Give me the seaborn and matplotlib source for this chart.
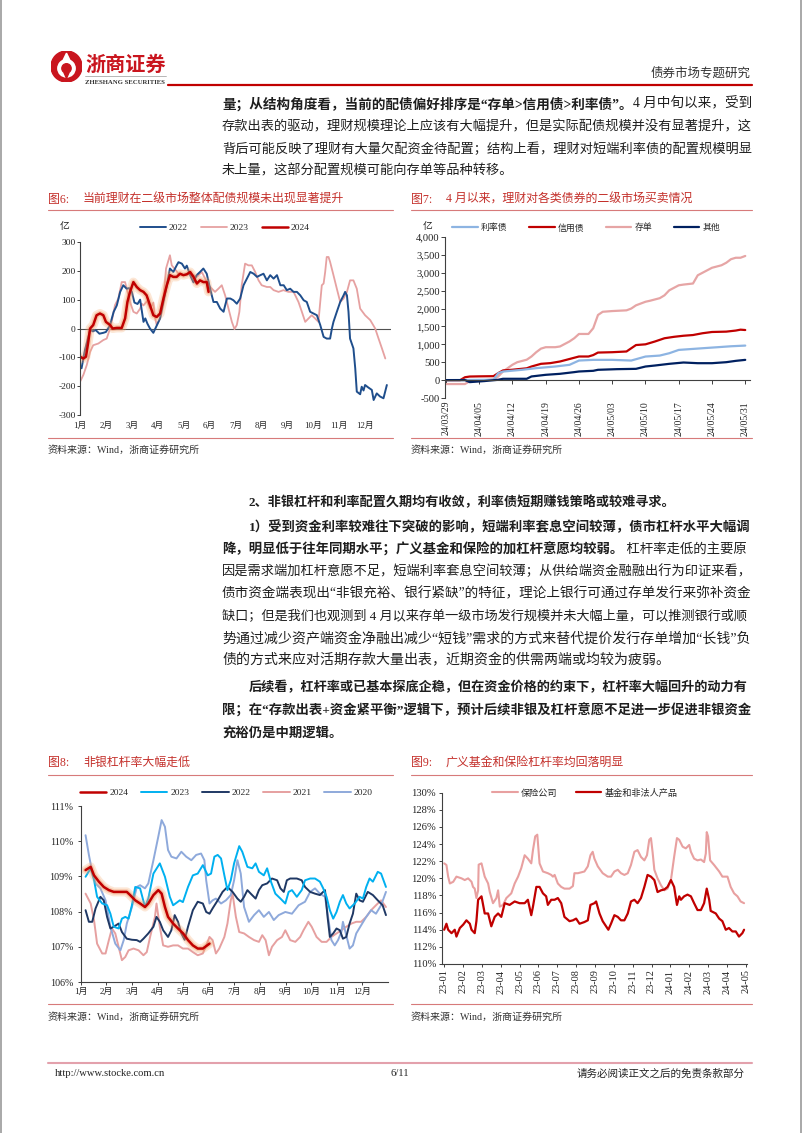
import matplotlib
matplotlib.use('Agg')
import matplotlib.pyplot as plt
import seaborn as sns
import pandas as pd
from matplotlib.lines import Line2D
from matplotlib.patches import Circle, Polygon
from matplotlib.ticker import FuncFormatter
from matplotlib.transforms import Bbox, TransformedBbox

sns.set_style('ticks')
FAM = ['Liberation Serif', 'Noto Sans CJK SC']
plt.rcParams['font.family'] = FAM
plt.rcParams['axes.unicode_minus'] = False

# ---------------- data ----------------
month_labels = ['1月', '2月', '3月', '4月', '5月', '6月', '7月', '8月', '9月', '10月', '11月', '12月']

# Fig 6 (x = month of year, y = 亿)
c6_2022 = [(0.06,-138),(0.19,-75),(0.39,-5),(0.5,-10),(0.6,-5),(0.75,-18),(0.9,-15),(1.0,-12),(1.15,10),(1.3,58),
           (1.42,80),(1.55,127),(1.67,150),(1.8,138),(1.9,140),(2.0,127),(2.1,90),(2.22,85),(2.32,100),(2.45,23),
           (2.52,35),(2.6,17),(2.7,0),(2.83,-15),(2.96,10),(3.09,35),(3.22,92),(3.35,150),(3.47,208),(3.6,196),
           (3.73,219),(3.8,230),(3.93,225),(4.05,208),(4.12,218),(4.25,185),(4.38,160),(4.5,185),(4.63,196),(4.76,208),
           (4.89,190),(5.02,138),(5.15,92),(5.28,92),(5.41,69),(5.54,58),(5.6,80),(5.67,104),(5.8,104),(5.92,98),
           (6.05,86),(6.18,104),(6.31,150),(6.44,173),(6.57,196),(6.7,190),(6.83,179),(6.96,185),(7.08,190),(7.21,167),
           (7.34,185),(7.47,173),(7.6,185),(7.73,150),(7.86,150),(7.98,133),(8.11,138),(8.24,127),(8.37,127),(8.5,115),
           (8.63,98),(8.75,92),(8.88,58),(9.01,52),(9.14,46),(9.27,12),(9.4,-29),(9.52,-35),(9.65,-35),(9.72,0),
           (9.78,23),(9.91,58),(10.04,92),(10.17,115),(10.23,127),(10.3,115),(10.36,58),(10.42,-35),(10.55,-69),(10.62,-138),
           (10.68,-219),(10.81,-228),(10.87,-202),(10.94,-215),(11.0,-196),(11.13,-205),(11.26,-213),(11.33,-248),(11.45,-225),(11.58,-236),
           (11.71,-242),(11.84,-196)]
c6_2023 = [(0.0,-185),(0.13,-161),(0.26,-127),(0.39,-81),(0.51,-58),(0.71,-52),(0.9,-40),(1.03,-35),(1.16,0),(1.22,23),
           (1.35,81),(1.48,104),(1.61,161),(1.74,161),(1.83,127),(1.93,92),(2.06,58),(2.19,52),(2.32,69),(2.38,86),
           (2.45,80),(2.58,95),(2.71,70),(2.83,90),(2.9,35),(2.96,12),(3.09,35),(3.22,104),(3.32,208),(3.47,254),
           (3.54,219),(3.67,205),(3.8,190),(4.0,185),(4.25,190),(4.51,179),(4.7,196),(4.83,173),(4.96,150),(5.09,138),
           (5.21,127),(5.34,138),(5.47,150),(5.6,115),(5.73,69),(5.86,23),(5.96,-2),(6.05,12),(6.15,58),(6.24,150),
           (6.37,225),(6.5,219),(6.63,219),(6.76,196),(6.89,167),(7.01,150),(7.21,144),(7.34,144),(7.47,133),(7.66,127),
           (7.85,133),(8.04,127),(8.24,127),(8.43,92),(8.56,58),(8.69,23),(8.82,35),(8.94,46),(9.07,35),(9.2,23),
           (9.27,92),(9.33,150),(9.4,156),(9.46,196),(9.52,248),(9.59,248),(9.65,231),(9.78,185),(9.91,138),(10.04,92),
           (10.17,104),(10.3,127),(10.42,167),(10.55,167),(10.68,138),(10.81,69),(11.0,46),(11.2,29),(11.39,0),(11.52,-35),
           (11.65,-69),(11.78,-104)]
c6_2024 = [(0.0,-98),(0.13,-104),(0.23,-98),(0.32,-46),(0.39,0),(0.51,12),(0.64,46),(0.77,52),(0.9,46),(1.0,23),
           (1.16,12),(1.26,0),(1.42,2),(1.61,2),(1.74,35),(1.83,92),(1.93,127),(2.06,161),(2.19,144),(2.32,133),
           (2.45,127),(2.57,115),(2.7,81),(2.83,46),(2.96,40),(3.09,52),(3.22,104),(3.35,150),(3.47,185),(3.6,179),
           (3.73,179),(3.86,190),(3.99,185),(4.12,188),(4.25,196),(4.38,179),(4.51,156),(4.63,167),(4.76,161),(4.89,161),
           (4.96,127)]

# Fig 7 (date 2024, 亿)
c7_start = '2024-03-29'
c7_ticks = ['24/03/29', '24/04/05', '24/04/12', '24/04/19', '24/04/26', '24/05/03', '24/05/10', '24/05/17', '24/05/24', '24/05/31']
c7_rate = [('03-29',0),('04-08',10),('04-09',195),('04-10',240),('04-14',288),('04-17',334),('04-21',380),('04-24',427),
           ('04-26',547),('04-29',566),('05-03',566),('05-07',547),('05-10',659),('05-13',686),('05-15',751),('05-17',844),
           ('05-20',872),('05-23',900),('05-25',918),('05-28',946),('05-31',965)]
c7_credit = [('03-29',0),('04-01',0),('04-02',80),('04-03',100),('04-05',105),('04-08',110),('04-09',195),('04-10',270),
             ('04-12',290),('04-15',330),('04-16',380),('04-18',455),('04-20',475),('04-22',520),('04-24',590),('04-26',660),
             ('04-28',660),('04-29',700),('04-30',770),('05-03',780),('05-06',800),('05-07',890),('05-08',980),('05-10',1000),
             ('05-12',1080),('05-14',1170),('05-16',1210),('05-18',1240),('05-20',1260),('05-22',1310),('05-24',1345),
             ('05-27',1355),('05-29',1385),('05-30',1410),('05-31',1400)]
c7_cd = [('03-29',-110),('04-02',-110),('04-03',-30),('04-05',-20),('04-08',20),('04-09',100),('04-10',240),('04-12',430),
         ('04-13',500),('04-15',570),('04-16',660),('04-17',780),('04-18',880),('04-19',920),('04-21',920),('04-22',940),
         ('04-24',1080),('04-25',1170),('04-26',1290),('04-28',1290),('04-29',1450),('04-30',1820),('05-01',1910),('05-03',1930),
         ('05-06',1950),('05-07',2000),('05-08',2090),('05-10',2190),('05-11',2220),('05-13',2290),('05-14',2370),('05-15',2510),
         ('05-17',2650),('05-18',2670),('05-20',2700),('05-21',2930),('05-22',3000),('05-24',3140),('05-26',3210),('05-27',3280),
         ('05-28',3380),('05-29',3420),('05-30',3420),('05-31',3470)]
c7_other = [('03-29',0),('04-02',0),('04-03',-56),('04-06',-28),('04-09',9),('04-10',37),('04-15',37),('04-16',102),
            ('04-19',148),('04-22',176),('04-25',223),('04-26',241),('04-29',260),('04-30',288),('05-04',306),('05-08',315),
            ('05-10',380),('05-12',408),('05-15',455),('05-18',492),('05-21',473),('05-24',473),('05-27',501),('05-29',538),
            ('05-31',566)]

# Fig 8 (x = month of year, %)
c8_2024 = [(0.19,109.18),(0.39,109.27),(0.52,109.03),(0.71,108.85),(0.9,108.70),(1.1,108.61),(1.29,108.56),(1.55,108.56),
           (1.8,108.56),(1.93,108.47),(2.13,108.32),(2.32,108.23),(2.51,108.13),(2.64,108.23),(2.84,108.47),(3.03,108.61),
           (3.16,108.51),(3.29,108.13),(3.41,107.85),(3.61,107.66),(3.8,107.52),(4.0,107.38),(4.19,107.19),(4.38,107.04),
           (4.57,106.95),(4.77,106.95),(4.9,107.02),(5.03,107.09)]
c8_2023 = [(0.19,108.99),(0.39,109.23),(0.52,108.9),(0.64,108.42),(0.84,108.23),(1.03,108.18),(1.16,107.94),(1.29,107.57),
           (1.48,107.52),(1.61,107.80),(1.74,107.85),(1.87,107.80),(2.0,108.18),(2.13,108.70),(2.32,108.66),(2.51,108.13),
           (2.64,108.37),(2.84,109.08),(3.09,109.37),(3.29,108.99),(3.48,108.42),(3.61,108.18),(3.87,108.32),(3.99,108.27),
           (4.19,108.70),(4.38,109.03),(4.57,109.08),(4.77,109.32),(4.96,109.03),(5.09,109.08),(5.22,109.56),(5.35,109.61),
           (5.48,109.51),(5.61,109.03),(5.73,108.61),(5.86,108.89),(5.99,109.37),(6.19,109.86),(6.31,109.70),(6.51,109.27),
           (6.7,109.23),(6.83,109.37),(6.96,109.13),(7.15,109.03),(7.28,109.23),(7.41,108.89),(7.6,108.51),(7.8,108.37),
           (7.99,108.23),(8.12,108.56),(8.25,108.61),(8.44,108.42),(8.63,108.61),(8.76,108.89),(8.96,108.94),(9.15,108.94),
           (9.34,108.85),(9.47,108.66),(9.6,108.42),(9.73,108.04),(9.86,107.80),(9.99,107.99),(10.12,108.28),(10.24,108.47),
           (10.37,108.23),(10.5,108.09),(10.7,108.23),(10.89,108.42),(11.02,108.37),(11.15,108.70),(11.28,108.94),(11.41,108.85),
           (11.6,109.13),(11.73,109.08),(11.92,108.70)]
c8_2022 = [(0.19,108.04),(0.32,107.71),(0.45,107.71),(0.58,108.09),(0.77,108.42),(0.9,108.32),(1.03,107.85),(1.16,107.52),
           (1.29,107.57),(1.48,107.66),(1.61,107.42),(1.8,107.23),(2.0,107.20),(2.19,107.19),(2.32,107.14),(2.45,107.23),
           (2.64,107.38),(2.84,107.57),(2.96,107.85),(3.09,107.71),(3.22,107.47),(3.41,107.28),(3.54,107.47),(3.67,107.90),
           (3.8,107.71),(3.93,107.38),(4.06,107.20),(4.19,107.57),(4.38,108.04),(4.57,108.28),(4.77,108.23),(4.9,107.99),
           (5.03,107.94),(5.15,108.09),(5.35,108.32),(5.54,108.56),(5.73,108.70),(5.93,108.56),(6.12,108.37),(6.25,108.28),
           (6.38,108.42),(6.51,108.61),(6.64,108.51),(6.83,108.37),(6.96,108.61),(7.09,108.75),(7.28,108.80),(7.47,108.94),
           (7.67,108.89),(7.8,108.66),(7.93,108.56),(8.05,108.89),(8.18,108.94),(8.44,108.94),(8.63,108.89),(8.76,108.70),
           (8.96,108.56),(9.15,108.51),(9.34,108.47),(9.54,108.61),(9.64,107.85),(9.73,107.28),(9.86,107.38),(9.99,107.52),
           (10.12,107.47),(10.24,107.23),(10.37,107.28),(10.5,107.66),(10.63,107.94),(10.76,108.51),(10.89,108.32),(11.02,108.28),
           (11.21,108.56),(11.41,108.47),(11.6,108.32),(11.79,108.18),(11.92,107.90)]
c8_2021 = [(0.19,108.51),(0.39,108.23),(0.52,107.76),(0.64,107.09),(0.84,106.81),(0.97,106.81),(1.1,107.19),(1.22,107.52),
           (1.35,107.38),(1.48,107.00),(1.61,106.62),(1.74,106.71),(1.87,106.90),(2.06,106.95),(2.26,106.90),(2.45,106.76),
           (2.58,106.85),(2.71,107.28),(2.9,107.85),(2.96,108.23),(3.09,107.57),(3.22,107.04),(3.41,107.00),(3.61,107.04),
           (3.8,107.04),(3.99,106.95),(4.19,106.95),(4.38,106.85),(4.57,106.76),(4.77,106.81),(4.9,107.04),(5.03,107.28),
           (5.15,107.19),(5.28,106.81),(5.41,106.95),(5.61,107.28),(5.73,107.66),(5.86,108.32),(5.93,108.51),(6.06,107.85),
           (6.19,107.42),(6.38,107.38),(6.57,107.28),(6.77,107.19),(6.96,107.14),(7.09,107.33),(7.22,107.19),(7.35,106.76),
           (7.47,107.00),(7.67,107.19),(7.86,107.28),(7.99,107.47),(8.18,107.19),(8.38,107.14),(8.57,107.28),(8.7,107.47),
           (8.89,107.71),(9.02,107.57),(9.21,107.28),(9.41,107.14),(9.6,107.14),(9.79,107.28),(9.99,107.38),(10.18,107.47),
           (10.37,107.57),(10.57,107.66),(10.76,107.71),(10.95,107.71),(11.15,107.85),(11.34,108.04),(11.53,108.18),(11.73,108.32),
           (11.92,108.13)]
c8_2020 = [(0.19,110.17),(0.32,109.61),(0.45,109.13),(0.58,108.80),(0.77,108.66),(0.97,108.32),(1.16,107.57),(1.35,107.09),
           (1.55,106.90),(1.68,107.19),(1.8,107.66),(2.0,108.13),(2.19,108.70),(2.32,108.75),(2.51,108.66),(2.64,108.80),
           (2.84,109.46),(3.03,110.13),(3.16,110.60),(3.29,110.41),(3.41,109.75),(3.54,109.56),(3.74,109.51),(3.93,109.70),
           (4.12,109.56),(4.32,109.46),(4.51,109.61),(4.7,109.65),(4.83,109.46),(4.9,108.89),(5.03,108.23),(5.15,108.32),
           (5.28,108.37),(5.48,108.23),(5.67,108.32),(5.86,108.47),(5.99,108.89),(6.12,109.46),(6.25,109.08),(6.38,108.13),
           (6.57,107.71),(6.77,107.90),(6.96,108.04),(7.15,107.85),(7.35,107.99),(7.54,107.76),(7.73,107.90),(7.99,107.99),
           (8.25,107.94),(8.51,108.18),(8.76,108.28),(8.96,108.56),(9.15,108.66),(9.34,108.51),(9.54,108.42),(9.66,107.85),
           (9.79,107.19),(9.92,107.04),(10.05,107.19),(10.18,107.42),(10.24,107.71),(10.37,107.33),(10.5,106.95),(10.63,107.04),
           (10.76,107.38),(10.95,107.61),(11.15,107.85),(11.34,108.04),(11.53,107.94),(11.73,108.18),(11.92,108.56)]

# Fig 9 (x = months since 2023-01, %)
c9_ticks = ['23-01', '23-02', '23-03', '23-04', '23-05', '23-06', '23-07', '23-08', '23-09', '23-10', '23-11', '23-12',
            '24-01', '24-02', '24-03', '24-04', '24-05']
c9_ins = [(0.0,121.75),(0.12,121.56),(0.21,120.2),(0.3,119.4),(0.48,119.6),(0.65,120.2),(0.92,120.0),(1.09,119.8),(1.27,120.0),
          (1.45,119.6),(1.53,119.0),(1.62,118.8),(1.71,117.7),(1.8,118.6),(1.83,121.6),(1.98,121.75),(2.15,120.2),(2.33,119.4),
          (2.42,118.4),(2.59,117.1),(2.77,117.7),(2.86,118.6),(2.95,116.7),(3.12,116.9),(3.3,117.7),(3.56,118.25),(3.74,119.4),
          (3.92,120.2),(4.09,121.2),(4.27,122.7),(4.44,122.3),(4.62,121.75),(4.71,123.3),(4.83,124.9),(4.94,125.1),(5.06,121.75),
          (5.24,120.8),(5.5,120.6),(5.68,120.4),(5.77,120.2),(5.86,120.4),(6.03,119.4),(6.21,119.0),(6.38,118.8),(6.65,118.8),
          (6.83,119.1),(6.91,120.6),(7.09,120.6),(7.27,120.7),(7.44,120.8),(7.62,121.4),(7.76,122.7),(7.88,123.1),(7.97,122.3),
          (8.15,121.4),(8.41,120.6),(8.68,120.2),(8.85,120.2),(9.03,120.8),(9.21,121.0),(9.38,120.6),(9.56,120.4),(9.74,120.6),
          (9.91,121.56),(10.09,123.1),(10.26,123.3),(10.44,122.5),(10.62,122.1),(10.76,122.7),(10.88,124.5),(10.97,124.7),
          (11.06,123.0),(11.15,121.0),(11.32,120.0),(11.5,119.2),(11.68,118.6),(11.85,118.8),(12.03,119.8),(12.2,122.5),
          (12.35,124.7),(12.47,124.5),(12.65,123.7),(12.82,123.5),(13.0,123.9),(13.09,123.1),(13.26,122.3),(13.44,122.1),
          (13.62,122.2),(13.79,121.9),(13.88,122.9),(13.93,125.4),(14.0,124.9),(14.11,122.1),(14.32,121.56),(14.59,120.8),
          (14.76,120.2),(15.03,120.2),(15.2,119.0),(15.38,118.25),(15.56,117.9),(15.73,117.3),(15.91,117.1)]
c9_fund = [(0.0,114.0),(0.12,114.7),(0.21,114.0),(0.39,113.6),(0.56,114.0),(0.65,113.2),(0.83,114.2),(1.01,114.6),(1.18,115.1),
           (1.36,114.7),(1.45,114.0),(1.62,113.6),(1.71,115.0),(1.8,117.5),(1.98,117.9),(2.15,115.9),(2.33,115.9),(2.5,114.4),
           (2.68,115.5),(2.86,115.9),(3.03,115.5),(3.21,117.1),(3.47,116.9),(3.74,117.3),(4.0,117.1),(4.27,117.1),(4.44,117.5),
           (4.62,115.7),(4.71,116.7),(4.89,119.0),(5.06,119.0),(5.24,118.25),(5.41,117.9),(5.5,116.9),(5.68,117.5),(5.86,117.5),
           (6.03,117.7),(6.21,117.1),(6.38,115.5),(6.65,115.0),(6.83,115.1),(7.0,115.3),(7.18,114.7),(7.44,114.9),(7.62,115.1),
           (7.76,116.9),(7.97,117.1),(8.06,117.3),(8.24,115.9),(8.41,115.0),(8.59,114.4),(8.71,114.0),(8.85,114.7),(9.03,115.7),
           (9.21,115.5),(9.38,115.1),(9.56,115.1),(9.74,115.9),(9.91,117.3),(10.09,117.5),(10.26,117.1),(10.44,117.7),(10.62,119.0),
           (10.79,120.4),(10.97,120.2),(11.15,119.8),(11.32,118.4),(11.5,118.6),(11.68,118.7),(11.85,119.0),(12.03,119.8),
           (12.2,119.0),(12.35,116.9),(12.47,117.9),(12.56,117.5),(12.73,117.9),(12.91,118.1),(13.09,117.9),(13.26,117.1),
           (13.44,116.3),(13.62,116.3),(13.79,117.1),(13.93,118.8),(14.06,117.5),(14.14,116.2),(14.41,115.9),(14.59,115.3),
           (14.76,115.0),(14.94,114.0),(15.11,114.2),(15.29,113.8),(15.47,113.8),(15.64,113.2),(15.82,113.6),(15.91,114.0)]

# ---------------- helpers ----------------
W, H = 802, 1133
fig = plt.figure(figsize=(W / 100, H / 100), dpi=100)
fig.patch.set_facecolor('white')
renderer = fig.canvas.get_renderer()

RED = '#C00000'
TITLE_RED = '#C4302B'
TXT = '#1e1e1e'


def fx(x):
    return x / W


def fy(y):
    return 1 - y / H


def hline(x0, x1, y, color, lw):
    fig.add_artist(Line2D([fx(x0), fx(x1)], [fy(y), fy(y)], transform=fig.transFigure, color=color, lw=lw))


def add_ax(l, t, r, b):
    return fig.add_axes([fx(l), fy(b), (r - l) / W, (b - t) / H])


def to_df(pairs):
    return pd.DataFrame(pairs, columns=['x', 'y'])


def c7_df(pairs):
    d = pd.DataFrame(pairs, columns=['d', 'y'])
    d['x'] = (pd.to_datetime('2024-' + d['d']) - pd.Timestamp(c7_start)).dt.days
    return d


def text_line(x0, y, runs, size, x1=None, color=TXT):
    objs = [fig.text(fx(x0), fy(y), s, fontsize=size, fontweight='bold' if b else 'normal',
                     ha='left', va='center', color=color) for s, b in runs]

    def layout():
        x = x0
        for t in objs:
            t.set_x(fx(x))
            x += t.get_window_extent(renderer).width
        return x - x0

    w = layout()
    if x1 is not None and w > 0:
        size = size * (x1 - x0) / w
        for t in objs:
            t.set_fontsize(size)
        layout()
    return size


def paragraph(lines, base=9.5):
    size = base
    for x0, y, runs, just in lines:
        if just:
            size = text_line(x0, y, runs, base, x1=752)
        else:
            text_line(x0, y, runs, size)


def line(ax, df, color, lw=1.3, **kw):
    sns.lineplot(data=df, x='x', y='y', ax=ax, color=color, lw=lw, legend=False, **kw)
    return ax.lines[-1]


def glow(ax, df, color):
    line(ax, df, '#F6A96E', lw=6.5, alpha=0.28, solid_capstyle='round')
    line(ax, df, '#EF8A5A', lw=3.8, alpha=0.35, solid_capstyle='round')
    return line(ax, df, color, lw=1.8)


def chart_frame(x0, x1, y_title, y_tline, y_sline, y_src, num, title):
    fig.text(fx(x0), fy(y_title), num, fontsize=8.6, color=TITLE_RED, ha='left', va='center')
    fig.text(fx(x0 + 35), fy(y_title), title, fontsize=8.6, color=TITLE_RED, ha='left', va='center')
    hline(x0, x1, y_tline, '#D77A7A', 0.8)
    hline(x0, x1, y_sline, '#D77A7A', 0.8)
    fig.text(fx(x0), fy(y_src), '资料来源：Wind，浙商证券研究所', fontsize=7.2, color='#333333', ha='left', va='center')


def style_axes(ax, ysize, xsize):
    for s in ['top', 'right']:
        ax.spines[s].set_visible(False)
    for s in ['left', 'bottom']:
        ax.spines[s].set_color('#404040')
        ax.spines[s].set_linewidth(0.8)
    ax.set_xlabel('')
    ax.set_ylabel('')
    ax.set_facecolor('none')
    ax.tick_params(axis='y', direction='out', length=2.5, width=0.7, colors='#404040', labelcolor='#222222',
                   labelsize=ysize, pad=1.5)
    ax.tick_params(axis='x', direction='out', length=2.5, width=0.7, colors='#404040', labelcolor='#222222',
                   labelsize=xsize)


# ---------------- page frame / header ----------------
fig.add_artist(Line2D([0.0008, 0.0008], [0, 1], transform=fig.transFigure, color='#9a9a9a', lw=1.2))
fig.add_artist(Line2D([0.9985, 0.9985], [0, 1], transform=fig.transFigure, color='#9a9a9a', lw=1.2))

lax = fig.add_axes([fx(51), fy(82), 31 / W, 31 / H])
lax.set_xlim(0, 1)
lax.set_ylim(0, 1)
lax.axis('off')
lax.add_patch(Circle((0.5, 0.5), 0.5, color='#C9151E'))
lax.add_patch(Circle((0.5, 0.44), 0.28, color='white'))
lax.add_patch(Circle((0.5, 0.44), 0.15, color='#C9151E'))
lax.add_patch(Polygon([[0.5, 0.93], [0.36, 0.64], [0.64, 0.64]], color='white'))
lax.add_patch(Polygon([[0.5, 0.12], [0.42, 0.3], [0.58, 0.3]], color='#C9151E'))

fig.text(fx(85), fy(64), '浙商证券', fontsize=14.5, fontweight='bold', color='#C9151E',
         ha='left', va='center', family='Noto Sans CJK SC')
hline(85, 166, 76, '#9a9a9a', 0.5)
text_line(85, 82.5, [('ZHESHANG SECURITIES', True)], 4.6, x1=165, color='#333333')
hline(168, 752, 85, '#C00000', 1.6)
fig.text(fx(751), fy(73), '债券市场专题研究', fontsize=9, color='#333333', ha='right', va='center')

# ---------------- body text ----------------
paragraph([
    (222, 104, [('量；从结构角度看，当前的配债偏好排序是“存单>信用债>利率债”。', True), ('4 月中旬以来，受到', False)], True),
    (222, 126.5, [('存款出表的驱动，理财规模理论上应该有大幅提升，但是实际配债规模并没有显著提升，这', False)], True),
    (222, 149, [('背后可能反映了理财有大量欠配资金待配置；结构上看，理财对短端利率债的配置规模明显', False)], True),
    (222, 171, [('未上量，这部分配置规模可能向存单等品种转移。', False)], False),
])

text_line(249, 502, [('2、非银杠杆和利率配置久期均有收敛，利率债短期赚钱策略或较难寻求。', True)], 9.45)
paragraph([
    (249, 527.5, [('1）受到资金利率较难往下突破的影响，短端利率套息空间较薄，债市杠杆水平大幅调', True)], True),
    (222, 549.5, [('降，明显低于往年同期水平；广义基金和保险的加杠杆意愿均较弱。', True), (' 杠杆率走低的主要原', False)], True),
    (222, 571.5, [('因是需求端加杠杆意愿不足，短端利率套息空间较薄；从供给端资金融融出行为印证来看，', False)], True),
    (222, 593.5, [('债市资金端表现出“非银充裕、银行紧缺”的特征，理论上银行可通过存单发行来弥补资金', False)], True),
    (222, 616, [('缺口；但是我们也观测到 4 月以来存单一级市场发行规模并未大幅上量，可以推测银行或顺', False)], True),
    (222, 638, [('势通过减少资产端资金净融出减少“短钱”需求的方式来替代提价发行存单增加“长钱”负', False)], True),
    (222, 660, [('债的方式来应对活期存款大量出表，近期资金的供需两端或均较为疲弱。', False)], False),
])
paragraph([
    (249, 688, [('后续看，杠杆率或已基本探底企稳，但在资金价格的约束下，杠杆率大幅回升的动力有', True)], True),
    (222, 710.5, [('限；在“存款出表+资金紧平衡”逻辑下，预计后续非银及杠杆意愿不足进一步促进非银资金', True)], True),
    (222, 733, [('充裕仍是中期逻辑。', True)], False),
])

# ---------------- Figure 6 ----------------
chart_frame(48, 393, 200, 210, 438, 450, '图6:', '当前理财在二级市场整体配债规模未出现显著提升')
ax6 = add_ax(80, 242, 391, 415)
ax6.axhline(0, color='#505050', lw=0.8, zorder=0)
l23 = line(ax6, to_df(c6_2023), '#E6A1A1', lw=1.3)
l22 = line(ax6, to_df(c6_2022), '#1F4E8C', lw=1.4)
l24 = glow(ax6, to_df(c6_2024), RED)
ax6.set_xlim(0, 12)
ax6.set_ylim(-300, 300)
ax6.set_yticks(range(-300, 301, 100))
ax6.set_xticks(range(12))
ax6.set_xticklabels(month_labels)
style_axes(ax6, 6.8, 6.3)
ax6.spines['bottom'].set_visible(False)
ax6.tick_params(axis='x', length=0, pad=5)
ax6.tick_params(axis='y', length=2, pad=1)
ax6.legend(handles=[l22, l23, l24], labels=['2022', '2023', '2024'], loc='center left',
           bbox_to_anchor=(fx(140), fy(228)), bbox_transform=fig.transFigure, ncol=3, frameon=False,
           fontsize=6.8, handlelength=2.7, handletextpad=0.35, columnspacing=1.4, borderpad=0, borderaxespad=0)
fig.text(fx(65), fy(227), '亿', fontsize=7, color='#222222', ha='center', va='center')

# ---------------- Figure 7 ----------------
chart_frame(411, 752, 200, 210, 438, 450, '图7:', '4 月以来，理财对各类债券的二级市场买卖情况')
ax7 = add_ax(445, 237, 750, 398)
k_cd = line(ax7, c7_df(c7_cd), '#E6A5A5', lw=1.6)
k_cr = line(ax7, c7_df(c7_credit), RED, lw=1.6)
k_ra = line(ax7, c7_df(c7_rate), '#8DB4E2', lw=1.6)
k_ot = line(ax7, c7_df(c7_other), '#002060', lw=1.6)
ax7.set_xlim(-0.2, 64)
ax7.set_ylim(-500, 4000)
ax7.set_yticks(range(-500, 4001, 500))
ax7.yaxis.set_major_formatter(FuncFormatter(lambda v, p: f'{int(v):,}'))
ax7.set_xticks(range(0, 64, 7))
ax7.set_xticklabels(c7_ticks)
style_axes(ax7, 7.6, 7.0)
ax7.spines['bottom'].set_position(('data', 0))
ax7.tick_params(axis='x', length=3, pad=12, labelrotation=90)
ax7.tick_params(axis='y', length=3, pad=0.8)
clip = TransformedBbox(Bbox.from_extents(fx(400), fy(437), fx(770), fy(380)), fig.transFigure)
for lab in ax7.get_xticklabels():
    lab.set_clip_on(True)
    lab.set_clip_box(clip)
ax7.legend(handles=[k_ra, k_cr, k_cd, k_ot], labels=['利率债', '信用债', '存单', '其他'], loc='center left',
           bbox_to_anchor=(fx(452), fy(228)), bbox_transform=fig.transFigure, ncol=4, frameon=False,
           fontsize=6.4, handlelength=2.9, handletextpad=0.35, columnspacing=2.4, borderpad=0, borderaxespad=0)
fig.text(fx(428), fy(227), '亿', fontsize=7, color='#222222', ha='center', va='center')

# ---------------- Figure 8 ----------------
chart_frame(48, 393, 763, 775, 1004, 1017, '图8:', '非银杠杆率大幅走低')
ax8 = add_ax(80.7, 806, 388, 982)
m21 = line(ax8, to_df(c8_2021), '#E6A0A0', lw=1.4)
m20 = line(ax8, to_df(c8_2020), '#8EA9DB', lw=1.4)
m22 = line(ax8, to_df(c8_2022), '#1F3864', lw=1.4)
m23 = line(ax8, to_df(c8_2023), '#00B0F0', lw=1.4)
m24 = glow(ax8, to_df(c8_2024), RED)
ax8.set_xlim(0, 12)
ax8.set_ylim(106, 111)
ax8.set_yticks(range(106, 112))
ax8.yaxis.set_major_formatter(FuncFormatter(lambda v, p: f'{int(v)}%'))
ax8.set_xticks(range(12))
ax8.set_xticklabels(month_labels)
style_axes(ax8, 7.2, 6.5)
ax8.tick_params(axis='x', pad=2)
ax8.tick_params(axis='y', pad=3)
ax8.legend(handles=[m24, m23, m22, m21, m20], labels=['2024', '2023', '2022', '2021', '2020'], loc='center left',
           bbox_to_anchor=(fx(80), fy(793)), bbox_transform=fig.transFigure, ncol=5, frameon=False,
           fontsize=6.8, handlelength=2.8, handletextpad=0.3, columnspacing=1.35, borderpad=0, borderaxespad=0)

# ---------------- Figure 9 ----------------
chart_frame(411, 752, 763, 775, 1004, 1017, '图9:', '广义基金和保险杠杆率均回落明显')
ax9 = add_ax(442.3, 792.7, 746.7, 964)
n_ins = line(ax9, to_df(c9_ins), '#E8A0A0', lw=1.5)
n_fund = line(ax9, to_df(c9_fund), RED, lw=1.6)
ax9.set_xlim(-0.1, 16.05)
ax9.set_ylim(110, 130)
ax9.set_yticks(range(110, 131, 2))
ax9.yaxis.set_major_formatter(FuncFormatter(lambda v, p: f'{int(v)}%'))
ax9.set_xticks(range(17))
ax9.set_xticklabels(c9_ticks)
style_axes(ax9, 7.6, 7.4)
ax9.tick_params(axis='x', labelrotation=90, pad=1.5)
ax9.tick_params(axis='y', pad=2)
ax9.legend(handles=[n_ins, n_fund], labels=['保险公司', '基金和非法人产品'], loc='center left',
           bbox_to_anchor=(fx(492), fy(793)), bbox_transform=fig.transFigure, ncol=2, frameon=False,
           fontsize=6.6, handlelength=2.8, handletextpad=0.35, columnspacing=2.0, borderpad=0, borderaxespad=0)

# ---------------- footer ----------------
hline(48, 752, 1063, '#E3A1AC', 1.5)
fig.text(fx(55), fy(1074), 'http://www.stocke.com.cn', fontsize=7.6, color='#222222', ha='left', va='center')
fig.text(fx(400), fy(1074), '6/11', fontsize=7.6, color='#222222', ha='center', va='center')
fig.text(fx(745), fy(1074), '请务必阅读正文之后的免责条款部分', fontsize=7.6, color='#222222', ha='right', va='center')

fig.savefig('out.png', dpi=100, facecolor='white')
